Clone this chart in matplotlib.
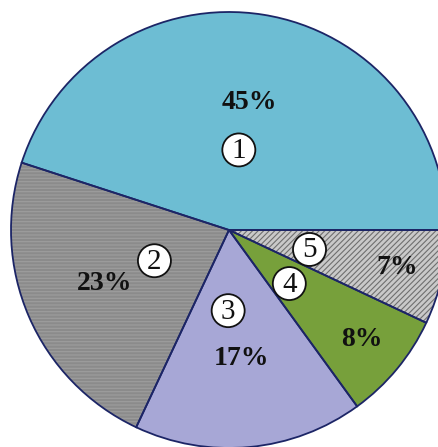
import matplotlib
matplotlib.use("Agg")
import matplotlib.pyplot as plt
from matplotlib.patches import Circle
import numpy as np

# Data
shares = [45, 23, 17, 8, 7]
numbers = ["1", "2", "3", "4", "5"]
colors = ["#6dbdd3", "#8b8b8b", "#a7a7d6", "#77a03b", "#c9c9c9"]
hatches = [None, "-----", None, None, "//////"]
hatch_colors = ["#6dbdd3", "#9d9d9d", "#a7a7d6", "#77a03b", "#6f6f6f"]
pct_dist = [0.59, 0.62, 0.59, 0.79, 0.79]
num_dist = [0.37, 0.37, 0.37, 0.37, 0.38]
num_ang_shift = [2, -1, -6, -2, -1]

W, H = 439, 447
fig = plt.figure(figsize=(W / 100, H / 100), dpi=100)
ax = fig.add_axes([0, 0, 1, 1])

cx, cy, R = 229, H - 230, 218
plt.rcParams["hatch.linewidth"] = 0.8

wedges, _ = ax.pie(shares, colors=colors, startangle=0, counterclock=True,
                   center=(cx, cy), radius=R, frame=True,
                   wedgeprops=dict(linewidth=0))
for w, h, hc in zip(wedges, hatches, hatch_colors):
    if h:
        w.set_hatch(h)
        w.set_edgecolor(hc)
outline, _ = ax.pie(shares, startangle=0, counterclock=True,
                    center=(cx, cy), radius=R, frame=True,
                    wedgeprops=dict(fill=False, edgecolor="#1c2566", linewidth=1.3))
ax.set_xlim(0, W)
ax.set_ylim(0, H)
ax.set_aspect("auto")
ax.axis("off")

serif = ["Liberation Serif", "DejaVu Serif"]
for w, s, n, pd, nd, sh in zip(wedges, shares, numbers, pct_dist, num_dist, num_ang_shift):
    mid = (w.theta1 + w.theta2) / 2
    ang = np.deg2rad(mid)
    px, py = cx + pd * R * np.cos(ang), cy + pd * R * np.sin(ang)
    ax.text(px, py, f"{s}%", ha="center", va="center", fontsize=20,
            fontweight="bold", family=serif, color="#111111")
    ang2 = np.deg2rad(mid + sh)
    nx, ny = cx + nd * R * np.cos(ang2), cy + nd * R * np.sin(ang2)
    ax.add_patch(Circle((nx, ny), 16.5, facecolor="white", edgecolor="#111111",
                        linewidth=1.3, zorder=5))
    ax.text(nx, ny - 1, n, ha="center", va="center", fontsize=21,
            family=serif, color="#111111", zorder=6)

fig.savefig("out.png", dpi=100)
